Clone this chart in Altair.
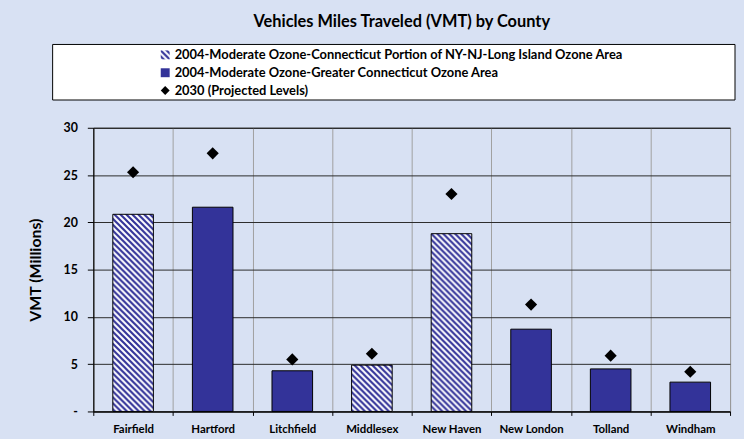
import jinja2
import pandas as pd
import altair as alt
from altair.utils import html as alt_html

# ---------------- data ----------------
TITLE = "Vehicles Miles Traveled (VMT) by County"
counties = ["Fairfield", "Hartford", "Litchfield", "Middlesex",
            "New Haven", "New London", "Tolland", "Windham"]
vmt_2004 = [20.85, 21.6, 4.3, 4.9, 18.8, 8.7, 4.5, 3.1]
vmt_2030 = [25.3, 27.3, 5.5, 6.1, 23.0, 11.3, 5.9, 4.2]
area_index = [0, 1, 1, 0, 0, 1, 1, 1]
series_names = [
    "2004-Moderate Ozone-Connecticut Portion of NY-NJ-Long Island Ozone Area",
    "2004-Moderate Ozone-Greater Connecticut Ozone Area",
    "2030 (Projected Levels)",
]
y_ticks = [0, 5, 10, 15, 20, 25, 30]
y_title = "VMT (Millions)"

df = pd.DataFrame({
    "county": counties,
    "vmt2004": vmt_2004,
    "vmt2030": vmt_2030,
    "series": [series_names[i] for i in area_index],
})

# ---------------- styling ----------------
FONT = "Lato"
NAVY = "#333399"

color_scale = alt.Scale(domain=series_names, range=["url(#hatch)", NAVY, "#000000"])
shape_scale = alt.Scale(domain=series_names, range=["square", "square", "diamond"])

legend = alt.Legend(
    title=None, orient="none", legendX=66, legendY=-80, padding=0,
    symbolSize=81, symbolStrokeColor="#000000", symbolStrokeWidth=1,
    symbolOpacity=1, labelFont=FONT, labelFontSize=13, labelFontWeight="bold",
    labelColor="#000000", labelLimit=1000, rowPadding=4, labelOffset=3,
)

x_enc = alt.X(
    "county:N", sort=counties,
    scale=alt.Scale(paddingInner=0, paddingOuter=0),
    axis=alt.Axis(
        title=None, labelAngle=0, labelFont=FONT, labelFontSize=11.5,
        labelFontWeight="bold", labelColor="#000000", tickBand="extent",
        grid=True, gridColor="#a0a0a0", gridWidth=1, tickColor="#000000",
        tickSize=4, domainColor="#000000", labelPadding=8,
    ),
)

y_axis = alt.Axis(
    values=y_ticks, title=y_title,
    labelExpr="datum.value == 0 ? '-' : datum.label",
    labelFont=FONT, labelFontSize=12.5, labelFontWeight="bold", labelColor="#000000",
    labelPadding=10, tickSize=6, tickColor="#000000", domainColor="#000000",
    grid=True, gridColor="#2a2a2a", gridWidth=1,
    titleFont=FONT, titleFontSize=16, titleFontWeight="bold", titleColor="#000000",
    titleAngle=270, titleX=-58, titleY=143, titleAlign="center", titleBaseline="middle",
)
y_scale = alt.Scale(domain=[0, 30], nice=False)

box = alt.Chart(alt.Data(values=[{"k": 1}])).mark_rect(
    fill="#ffffff", stroke="#000000", strokeWidth=1
).encode(
    x=alt.value(-41), x2=alt.value(647), y=alt.value(-84), y2=alt.value(-28)
)

title = alt.Chart(alt.Data(values=[{"t": TITLE}])).mark_text(
    font=FONT, fontSize=16.5, fontWeight="bold", align="center",
    baseline="alphabetic", color="#000000"
).encode(x=alt.value(311), y=alt.value(-102), text="t:N")

bars = alt.Chart(df).mark_bar(
    width=alt.RelativeBandSize(0.51), stroke="#000000", strokeWidth=1, opacity=1
).encode(
    x=x_enc,
    y=alt.Y("vmt2004:Q", scale=y_scale, axis=y_axis),
    color=alt.Color("series:N", scale=color_scale, legend=legend, sort=series_names),
)

points = alt.Chart(df).transform_calculate(
    series="'" + series_names[2] + "'"
).mark_point(filled=True, size=150, opacity=1).encode(
    x=x_enc,
    y=alt.Y("vmt2030:Q", scale=y_scale, axis=y_axis),
    color=alt.Color("series:N", scale=color_scale, legend=legend, sort=series_names),
    shape=alt.Shape("series:N", scale=shape_scale, legend=legend, sort=series_names),
)

chart = alt.layer(box, title, bars, points).properties(
    width=642, height=286,
    autosize=alt.AutoSizeParams(type="none"),
    padding={"left": 86, "top": 119, "right": 6, "bottom": 24},
).configure(
    background="url(#bg)",
).configure_view(stroke="#000000", strokeWidth=1)

# ---------------- page template with the hatch pattern ----------------
EXTRA = """<svg width="0" height="0" style="position:absolute;left:0;top:0" aria-hidden="true">
<defs>
<pattern id="hatch" patternUnits="userSpaceOnUse" width="6" height="6">
<rect x="0" y="0" width="6" height="6" fill="#ffffff"/>
<path d="M-1,-1 L7,7 M-1,5 L1,7 M5,-1 L7,1" stroke="#333399" stroke-width="2.2"/>
</pattern>
<linearGradient id="bg" x1="0" y1="0" x2="1" y2="0">
<stop offset="0" stop-color="#dbe3f4"/>
<stop offset="1" stop-color="#d0dcf1"/>
</linearGradient>
</defs>
</svg>
<style>html, body { background: #d8e1f3; overflow: hidden; }</style>
"""

_templates = getattr(alt_html, "TEMPLATES", None)
BASE_TEMPLATE = _templates["standard"] if _templates else alt_html.HTML_TEMPLATE


class PatternTemplate(jinja2.Template):
    def render(self, *args, **kwargs):
        page = BASE_TEMPLATE.render(*args, **kwargs)
        marker = '<div id="'
        if marker in page:
            return page.replace(marker, EXTRA + marker, 1)
        return EXTRA + page


chart.save("out.html", embed_options={"renderer": "svg", "actions": False},
           template=PatternTemplate(""))
